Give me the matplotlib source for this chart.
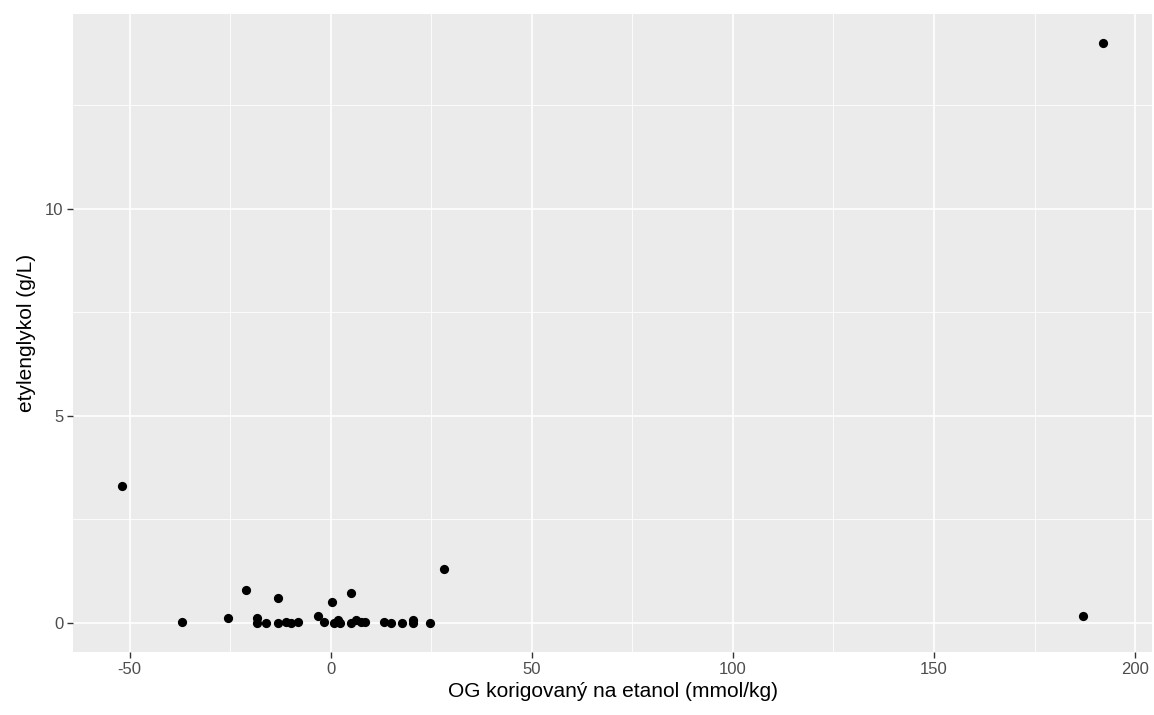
import numpy as np
import matplotlib
matplotlib.use("Agg")
import matplotlib.pyplot as plt

# OG korigovaný na etanol (mmol/kg) vs. etylenglykol (g/L)
og_corr = [-51.9, -37.0, -25.6, -21.1, -18.4, -18.4, -16.1, -13.2, -13.2, -11.2,
           -9.9, -8.1, -3.3, -1.8, 0.4, 0.8, 1.8, 2.3, 5.0, 5.1,
           6.2, 7.4, 8.4, 13.2, 14.9, 17.8, 20.5, 20.5, 24.7, 28.1,
           187.0, 192.0]
eg = [3.31, 0.03, 0.11, 0.80, 0.11, 0.00, 0.00, 0.60, 0.00, 0.02,
      0.00, 0.03, 0.17, 0.03, 0.51, 0.00, 0.07, 0.01, 0.72, 0.00,
      0.07, 0.03, 0.02, 0.03, 0.00, 0.00, 0.07, 0.00, 0.00, 1.30,
      0.17, 14.0]

x_major = [-50, 0, 50, 100, 150, 200]
x_minor = [-25, 25, 75, 125, 175]
y_major = [0, 5, 10]
y_minor = [2.5, 7.5, 12.5]

plt.rcParams['font.family'] = ['Liberation Sans', 'DejaVu Sans']
plt.rcParams['axes.unicode_minus'] = False

fig = plt.figure(figsize=(11.54, 7.15), dpi=100)
ax = fig.add_axes([73/1154, 1 - 652/715, (1152-73)/1154, (652-14)/715])
ax.set_facecolor("#EBEBEB")
for s in ax.spines.values():
    s.set_visible(False)

ax.scatter(og_corr, eg, s=44, color="black", linewidths=0, zorder=3)
ax.margins(0.05)

ax.set_xticks(x_major)
ax.set_xticks(x_minor, minor=True)
ax.set_yticks(y_major)
ax.set_yticks(y_minor, minor=True)
ax.grid(which="major", color="white", linewidth=1.2)
ax.grid(which="minor", color="white", linewidth=0.6)
ax.set_axisbelow(True)
ax.tick_params(which="major", length=4, width=1, color="#333333",
               labelcolor="#4D4D4D", labelsize=12, pad=3)
ax.tick_params(which="minor", length=0)

ax.set_xlabel("OG korigovaný na etanol (mmol/kg)", fontsize=15, color="black", labelpad=4)
ax.set_ylabel("etylenglykol (g/L)", fontsize=15, color="black", labelpad=6)

fig.savefig("out.png", dpi=100)
